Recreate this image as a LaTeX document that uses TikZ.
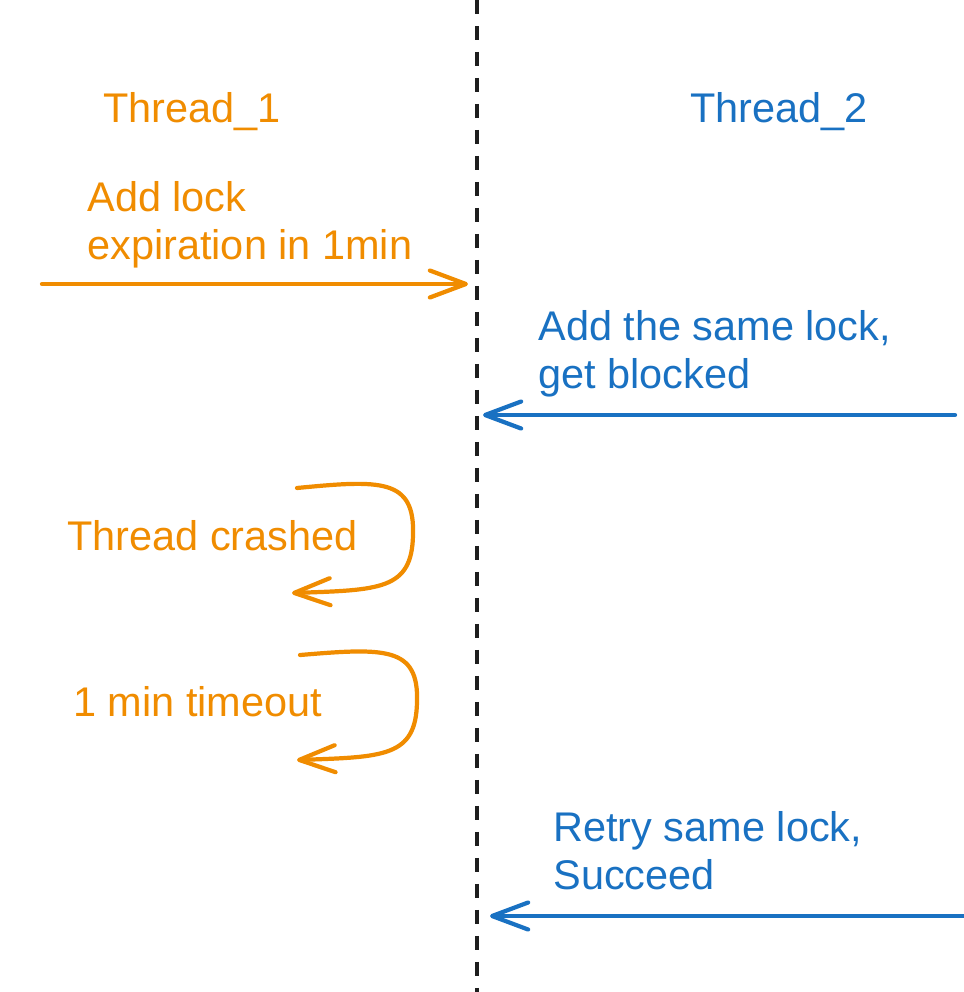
\documentclass[tikz,border=0pt]{standalone}
\usepackage{fontspec}
\setmainfont{Liberation Sans}
\usetikzlibrary{arrows.meta}
\definecolor{myorange}{RGB}{240,140,0}
\definecolor{myblue}{RGB}{25,113,194}
\definecolor{mydark}{RGB}{30,30,30}
\tikzset{
  orangetext/.style={anchor=base west, inner sep=0pt, align=left,
    color=myorange, font=\fontsize{23.6pt}{27.3pt}\selectfont},
  bluetext/.style={anchor=base west, inner sep=0pt, align=left,
    color=myblue, font=\fontsize{23.6pt}{27.3pt}\selectfont},
  orangearrow/.style={-{Straight Barb[length=0.72cm, width=0.54cm, round]},
    line width=2.4pt, line cap=round, color=myorange},
  bluearrow/.style={-{Straight Barb[length=0.72cm, width=0.54cm, round]},
    line width=2.4pt, line cap=round, color=myblue},
  timeline/.style={line width=2pt, color=mydark, dash pattern=on 0.28cm off 0.24cm}
}
\begin{document}
\begin{tikzpicture}[x=0.02cm, y=-0.02cm]
  \useasboundingbox (0,0) rectangle (964,992);

  % Dashed divider between the two threads
  \coordinate (divtop) at (477,0);
  \coordinate (divbot) at (477,992);
  \draw[timeline] (divtop) -- (divbot);

  % Thread headers
  \node[orangetext] (thread1) at (103,122) {Thread\_1};
  \node[bluetext] (thread2) at (690,122) {Thread\_2};

  % Thread_1 takes the lock
  \node[orangetext] (addlock) at (87,259) {Add lock\\expiration in 1min};
  \coordinate (lockstart) at (42,284);
  \coordinate (lockend) at (468,284);
  \draw[orangearrow] (lockstart) -- (lockend);

  % Thread_2 gets blocked
  \node[bluetext] (samelock) at (538,388) {Add the same lock,\\get blocked};
  \coordinate (blockstart) at (955,415);
  \coordinate (blockend) at (483,415);
  \draw[bluearrow] (blockstart) -- (blockend);

  % Thread_1 crashes
  \node[orangetext] (crashed) at (67,550) {Thread crashed};
  \coordinate (crashstart) at (297,488);
  \coordinate (crashend) at (292,593);
  \draw[orangearrow] (crashstart) .. controls (380,480) and (415,478) .. (413,535)
    .. controls (412,590) and (380,590) .. (crashend);

  % Lock expires
  \node[orangetext] (timeout) at (73,716) {1 min timeout};
  \coordinate (timeoutstart) at (300,655);
  \coordinate (timeoutend) at (297,760);
  \draw[orangearrow] (timeoutstart) .. controls (384,648) and (419,646) .. (417,702)
    .. controls (416,757) and (384,757) .. (timeoutend);

  % Thread_2 retries
  \node[bluetext] (retry) at (553,889) {Retry same lock,\\Succeed};
  \coordinate (retrystart) at (964,916);
  \coordinate (retryend) at (490,916);
  \draw[bluearrow] (retrystart) -- (retryend);
\end{tikzpicture}
\end{document}
